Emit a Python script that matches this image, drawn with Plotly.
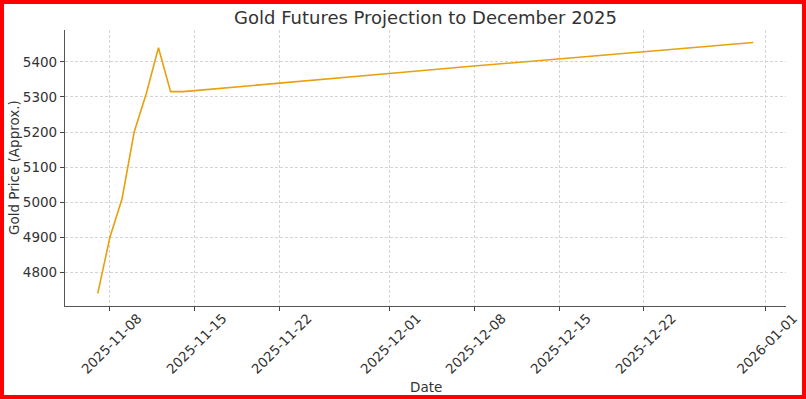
import plotly.graph_objects as go

dates = ["2025-11-07", "2025-11-08", "2025-11-09", "2025-11-10", "2025-11-11",
         "2025-11-12", "2025-11-13", "2025-11-14", "2025-11-15", "2025-11-22",
         "2025-12-01", "2025-12-08", "2025-12-15", "2025-12-22", "2025-12-31"]
prices = [4740, 4900, 5010, 5200, 5310, 5440, 5315, 5315, 5318, 5340,
          5367, 5388, 5409, 5430, 5455]

x_ticks = ["2025-11-08", "2025-11-15", "2025-11-22", "2025-12-01",
           "2025-12-08", "2025-12-15", "2025-12-22", "2026-01-01"]
y_ticks = [4800, 4900, 5000, 5100, 5200, 5300, 5400]

W, H = 806, 399
L, R, T, B = 65, 20, 30, 93
pw, ph = W - L - R, H - T - B

font = "DejaVu Sans"
txt = "#333333"
fs = 13.5

fig = go.Figure()
fig.add_trace(go.Scatter(x=dates, y=prices, mode="lines",
                         line=dict(color="#E8A00C", width=1.6),
                         showlegend=False, hoverinfo="skip"))

fig.update_layout(
    width=W, height=H,
    margin=dict(l=L, r=R, t=T, b=B, autoexpand=False),
    paper_bgcolor="white", plot_bgcolor="white",
    font=dict(family=font, color=txt, size=fs),
    title=dict(text="Gold Futures Projection to December 2025",
               x=(L + pw / 2) / W, xanchor="center",
               y=1 - 18 / H, yanchor="middle",
               font=dict(family=font, size=18, color=txt)),
    xaxis=dict(
        type="date",
        range=["2025-11-04 07:12", "2026-01-02 16:48"],
        tickvals=x_ticks, ticktext=x_ticks,
        tickangle=-45, ticklabelshift=28, ticklabelstandoff=-6,
        ticks="outside", ticklen=4, tickcolor="#444", tickwidth=1,
        showline=True, linecolor="#555", linewidth=1.2,
        showgrid=True, gridcolor="#d4d4d4", griddash="3px,2px", gridwidth=0.8,
        zeroline=False, automargin=False,
        tickfont=dict(size=fs, color=txt),
    ),
    yaxis=dict(
        range=[4704.25, 5490.75],
        tickvals=y_ticks,
        ticks="outside", ticklen=4, tickcolor="#444", tickwidth=1,
        showline=True, linecolor="#555", linewidth=1.2,
        showgrid=True, gridcolor="#d4d4d4", griddash="3px,2px", gridwidth=0.8,
        zeroline=False, automargin=False,
        tickfont=dict(size=fs, color=txt),
    ),
    annotations=[
        dict(text="Date", xref="paper", yref="paper",
             x=0.5, y=-(386.5 - (T + ph)) / ph, xanchor="center", yanchor="middle",
             showarrow=False, font=dict(size=fs, color=txt)),
        dict(text="Gold Price (Approx.)", xref="paper", yref="paper",
             x=-(L - 14) / pw, y=0.5, xanchor="center", yanchor="middle",
             textangle=-90, showarrow=False, font=dict(size=fs, color=txt)),
    ],
    shapes=[dict(type="rect", xref="paper", yref="paper",
                 x0=-L / pw, x1=1 + R / pw, y0=-B / ph, y1=1 + T / ph,
                 line=dict(color="#ff0000", width=8), fillcolor="rgba(0,0,0,0)",
                 layer="above")],
)

fig.write_html("out.html", config={"displayModeBar": False},
               post_script="document.body.style.margin='0';")
